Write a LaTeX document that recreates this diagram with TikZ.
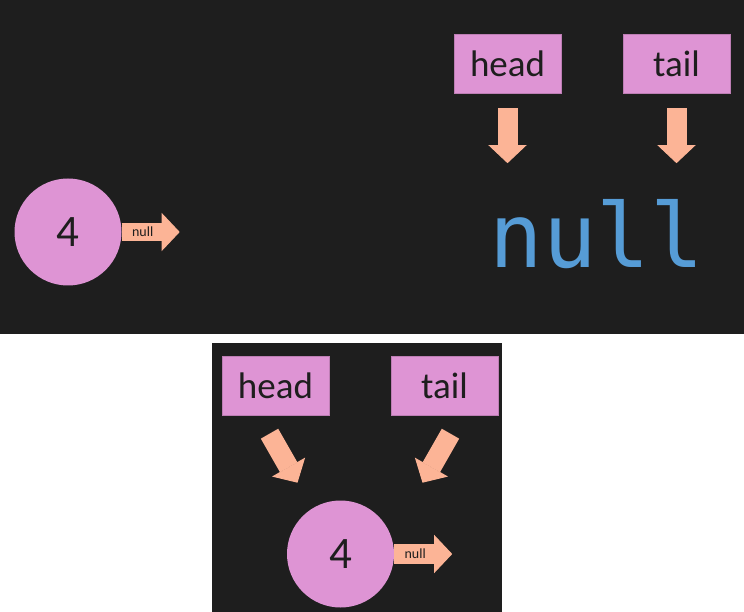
\documentclass[tikz,border=0pt]{standalone}
\usepackage{fontspec}
\setmainfont{Carlito}
\newfontfamily\codefont{DejaVu Sans Mono}
\usetikzlibrary{positioning,calc}
\usetikzlibrary{arrows.meta}

\definecolor{panel}{RGB}{30,30,30}
\definecolor{nodepink}{RGB}{222,148,212}
\definecolor{peach}{RGB}{252,180,150}
\definecolor{codeblue}{RGB}{86,156,214}

\begin{document}
\begin{tikzpicture}[x=1pt, y=-1pt,
      ptr/.style={peach, line width=20pt,
        -{Triangle[width=38pt, length=18pt, line width=1pt]}},
      cell/.style={circle, fill=nodepink, minimum size=107pt,
        font=\fontsize{45}{48}\selectfont, text=panel},
      ref/.style={fill=nodepink, draw=nodepink!85!black,
        minimum width=107pt, minimum height=59pt,
        font=\fontsize{37}{40}\selectfont, text=panel},
      lab/.style={font=\fontsize{14}{15}\selectfont, text=panel},
      every node/.style={inner sep=0pt}
      ]
    \useasboundingbox (0,0) rectangle (744,612);
    \fill[white] (0,0) rectangle (744,612);
    \fill[panel] (0,0) rectangle (744,334);
    \fill[panel] (212,343) rectangle (502,612);

    % before: empty list
    \node (n4A) [cell] at (68,232) {4};
    \node (headA) [ref] at (507.5,63.5) {head};
    \node (tailA) [ref] at (676.5,63.5) {tail};
    \node (nullA) [anchor=base, text=codeblue,
      font=\codefont\fontsize{89}{90}\selectfont] at (597,268) {null};

    \draw[ptr] ($(headA.south)+(0,15)$) -- ($(headA.south)+(0,70)$);
    \draw[ptr] ($(tailA.south)+(0,15)$) -- ($(tailA.south)+(0,70)$);
    \draw[ptr, line width=18pt] (n4A.east) -- ($(n4A.east)+(58,0)$);
    \node (nlA) [lab] at ($(n4A.east)+(21,0)$) {null};

    % after: one node
    \node (n4B) [cell] at (340.5,554) {4};
    \node (headB) [ref] at (275.5,386) {head};
    \node (tailB) [ref] at (444.5,386) {tail};

    \draw[ptr] ($(headB.south)+(-6,18)$) -- ($(headB.south)+(22,67)$);
    \draw[ptr] ($(tailB.south)+(6,18)$) -- ($(tailB.south)+(-22,67)$);
    \draw[ptr] (n4B.east) -- ($(n4B.east)+(58,0)$);
    \node (nlB) [lab] at ($(n4B.east)+(21,0)$) {null};
  \end{tikzpicture}
\end{document}
